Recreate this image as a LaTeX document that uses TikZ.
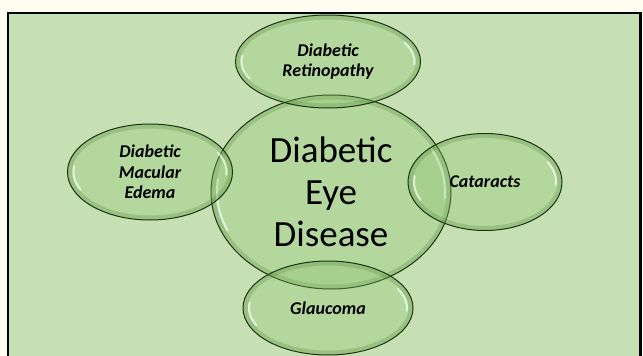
\documentclass[tikz,border=0pt]{standalone}
\usepackage{fontspec}
\setmainfont{Carlito}
\usetikzlibrary{shapes.geometric}
\definecolor{pageC}{RGB}{255, 253, 240}
\definecolor{panelC}{RGB}{198, 224, 180}
\definecolor{bubbleC}{RGB}{140, 195, 110}
\definecolor{shadeC}{RGB}{70, 125, 40}
\definecolor{rimC}{RGB}{30, 50, 20}

\newcommand{\shine}[3]{%
  \begin{scope}
    \clip (#1.center) ellipse [x radius=#2, y radius=#3];
    \draw[inset] (#1.center) ellipse [x radius=#2, y radius=#3];
  \end{scope}
  \draw[glint] (#1.center) ++(155:#2-6 and #3-6) arc[start angle=155, end angle=188, x radius=#2-6, y radius=#3-6];
  \draw[glint] (#1.center) ++(-28:#2-6 and #3-6) arc[start angle=-28, end angle=4, x radius=#2-6, y radius=#3-6];
  \draw[rim] (#1.center) ellipse [x radius=#2, y radius=#3];}

\begin{document}
\begin{tikzpicture}[
    x=1pt, y=-1pt,
    bubble/.style={ellipse, inner sep=0pt, fill=bubbleC, fill opacity=0.3,
                   text opacity=1, align=center},
    side/.style={font=\fontsize{18}{20.5}\selectfont\bfseries\itshape},
    inset/.style={shadeC, line width=9pt, opacity=0.24},
    rim/.style={rimC, line width=1pt},
    glint/.style={white, line width=2pt, opacity=0.65, line cap=round}
  ]
    \useasboundingbox (0,0) rectangle (643,356);
    \clip (0,0) rectangle (643,356);

    % Page and panel
    \fill[pageC] (0,0) rectangle (643,356);
    \draw[line width=2.5pt, fill=panelC] (8,13) rectangle (640.5,380);

    % Centre
    \node[bubble, minimum width=240pt, minimum height=194pt,
          font=\fontsize{37}{42}\selectfont] (eye) at (331,192) {Diabetic\\Eye\\Disease};
    \shine{eye}{120}{97}

    % Complications
    \node[bubble, side, minimum width=185pt, minimum height=93pt] (retino) at (328,61.5)
      {Diabetic\\Retinopathy};
    \shine{retino}{92.5}{46.5}
    \node[bubble, side, minimum width=165pt, minimum height=96pt] (macular) at (150,172)
      {Diabetic\\Macular\\Edema};
    \shine{macular}{82.5}{48}
    \node[bubble, side, minimum width=154pt, minimum height=97pt] (cataract) at (485,182)
      {Cataracts};
    \shine{cataract}{77}{48.5}
    \node[bubble, side, minimum width=170pt, minimum height=94pt] (glaucoma) at (328,308)
      {Glaucoma};
    \shine{glaucoma}{85}{47}
  \end{tikzpicture}
\end{document}
